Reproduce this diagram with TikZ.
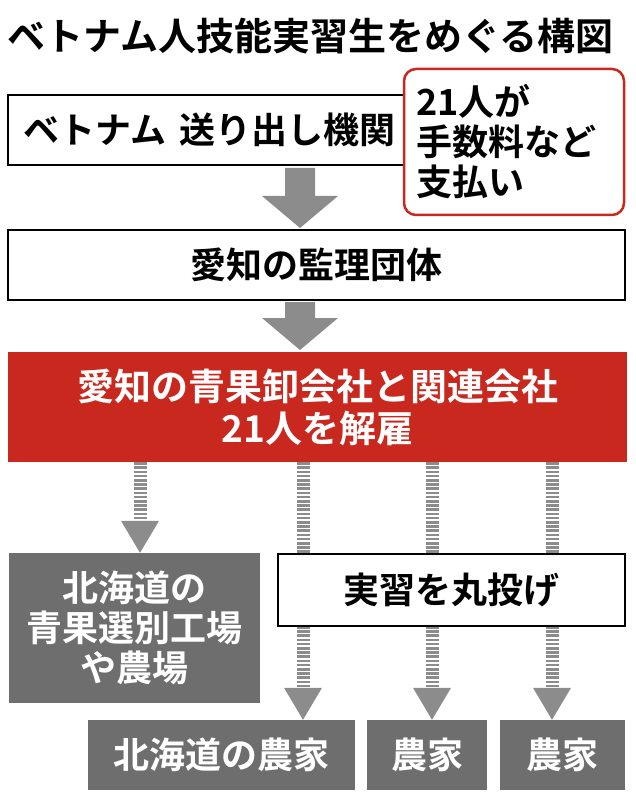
\documentclass[tikz,border=0pt]{standalone}
\usepackage{fontspec}
\setmainfont{Noto Sans CJK JP}[BoldFont={Noto Sans CJK JP Bold}]
\usetikzlibrary{positioning,calc}
\definecolor{arrowgray}{HTML}{8C8C8C}
\definecolor{boxgray}{HTML}{6E6E6E}
\definecolor{hotred}{HTML}{C9281E}
\tikzset{
  x=1pt, y=-1pt,
  whitebox/.style={draw=black, line width=1.5pt, fill=white, font=\bfseries\fontsize{36}{40}\selectfont, inner sep=0pt},
  graybox/.style={fill=boxgray, text=white, font=\bfseries\fontsize{36}{40}\selectfont, inner sep=0pt, align=center},
  stripe/.style={draw=arrowgray, line width=13pt, dash pattern=on 2.6pt off 1.6pt},
  head/.style={fill=arrowgray},
}
% solid arrow: top point, bottom point
\newcommand{\bigarrow}[2]{%
  \fill[arrowgray] ($(#1)+(-15,0)$) -- ($(#1)+(15,0)$) -- ($(#2)+(15,-32)$) -- ($(#2)+(38,-32)$)
    -- (#2) -- ($(#2)+(-38,-32)$) -- ($(#2)+(-15,-32)$) -- cycle;}
% striped arrow
\newcommand{\stripearrow}[2]{%
  \draw[stripe] (#1) -- ($(#2)+(0,-32)$);
  \fill[head] ($(#2)+(-19,-32)$) -- ($(#2)+(19,-32)$) -- (#2) -- cycle;}
\begin{document}
\begin{tikzpicture}
\useasboundingbox (0,0) rectangle (635,799);
%Nodes
\node[anchor=west, font=\bfseries\fontsize{38}{42}\selectfont] (title) at (4,36) {ベトナム人技能実習生をめぐる構図};
\draw[whitebox] (8,95) rectangle (420,165);
\node[font=\bfseries\fontsize{36}{40}\selectfont, anchor=west] (send) at (20,130) {ベトナム\hspace{0.35em}送り出し機関};
\node[draw=hotred, line width=2.5pt, fill=white, rounded corners=12pt, minimum width=220pt, minimum height=146pt,
  font=\bfseries\fontsize{36}{40}\selectfont, align=left, text width=195pt] (fee) at (514,142) {21人が\\手数料など\\支払い};
\node[whitebox, minimum width=617pt, minimum height=70pt] (kanri) at (316.5,265) {愛知の監理団体};
\node[fill=hotred, text=white, minimum width=619pt, minimum height=110pt, align=center,
  font=\bfseries\fontsize{37}{42}\selectfont] (seika) at (317.5,407) {愛知の青果卸会社と関連会社\\21人を解雇};
\node[graybox, minimum width=251pt, minimum height=150pt] (factory) at (134.5,628) {北海道の\\青果選別工場\\や農場};
\node[graybox, minimum width=267pt, minimum height=70pt] (farm1) at (221.5,755) {北海道の農家};
\node[graybox, minimum width=120pt, minimum height=70pt] (farm2) at (427,755) {農家};
\node[graybox, minimum width=125pt, minimum height=70pt] (farm3) at (562.5,755) {農家};
%Arrows
\coordinate (a1) at (300,168); \coordinate (a1e) at (300,228);
\bigarrow{a1}{a1e}
\coordinate (a2) at (300,302); \coordinate (a2e) at (300,350);
\bigarrow{a2}{a2e}
\stripearrow{seika.south -| 140,0}{factory.north -| 140,0}
\stripearrow{seika.south -| 303,0}{farm1.north -| 303,0}
\stripearrow{seika.south -| 432,0}{farm2.north -| 432,0}
\stripearrow{seika.south -| 552,0}{farm3.north -| 552,0}
\node[whitebox, minimum width=347pt, minimum height=72pt] (maru) at (451.5,590) {実習を丸投げ};
\end{tikzpicture}
\end{document}
